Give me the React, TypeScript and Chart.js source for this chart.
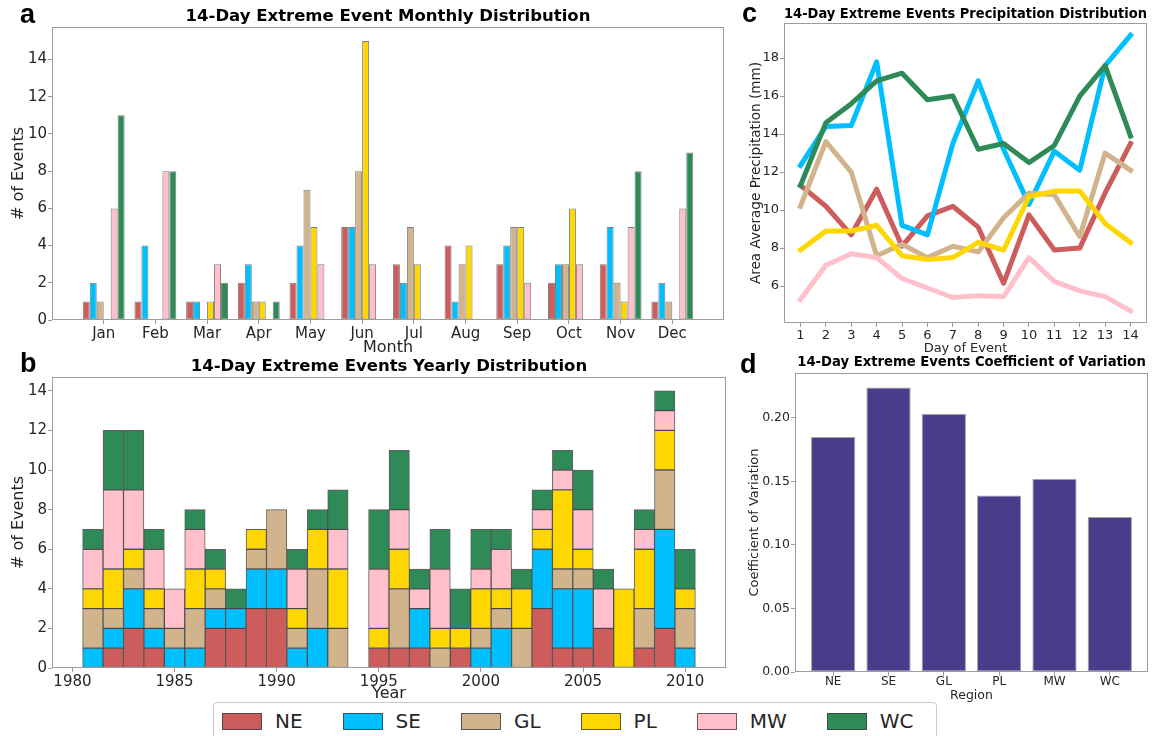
import React, { useEffect, useRef } from 'react';
import { Chart, registerables } from 'chart.js';

Chart.register(...registerables);

// ---------- data ----------
const REGIONS = ['NE', 'SE', 'GL', 'PL', 'MW', 'WC'];
const REGION_COLORS = ['#CD5C5C', '#00BFFF', '#D2B48C', '#FFD700', '#FFC0CB', '#2E8B57'];

const MONTHS = ['Jan', 'Feb', 'Mar', 'Apr', 'May', 'Jun', 'Jul', 'Aug', 'Sep', 'Oct', 'Nov', 'Dec'];
const NE_MONTHLY = [1, 1, 1, 2, 2, 5, 3, 4, 3, 2, 3, 1];
const SE_MONTHLY = [2, 4, 1, 3, 4, 5, 2, 1, 4, 3, 5, 2];
const GL_MONTHLY = [1, 0, 0, 1, 7, 8, 5, 3, 5, 3, 2, 1];
const PL_MONTHLY = [0, 0, 1, 1, 5, 15, 3, 4, 5, 6, 1, 0];
const MW_MONTHLY = [6, 8, 3, 0, 3, 3, 0, 0, 2, 3, 5, 6];
const WC_MONTHLY = [11, 8, 2, 1, 0, 0, 0, 0, 0, 0, 8, 9];
const MONTHLY_Y_TICKS = [0, 2, 4, 6, 8, 10, 12, 14];

const YEARS = [1981, 1982, 1983, 1984, 1985, 1986, 1987, 1988, 1989, 1990, 1991, 1992, 1993, 1994, 1995,
  1996, 1997, 1998, 1999, 2000, 2001, 2002, 2003, 2004, 2005, 2006, 2007, 2008, 2009, 2010];
const NE_YEARLY = [0, 1, 2, 1, 0, 0, 2, 2, 3, 3, 0, 0, 0, 0, 1, 1, 1, 0, 1, 0, 0, 0, 3, 1, 1, 2, 0, 1, 2, 0];
const SE_YEARLY = [1, 1, 2, 1, 1, 1, 1, 1, 2, 2, 1, 2, 0, 0, 0, 0, 2, 0, 0, 1, 2, 0, 3, 3, 3, 0, 0, 0, 5, 1];
const GL_YEARLY = [2, 1, 1, 1, 1, 2, 1, 0, 1, 3, 1, 3, 2, 0, 0, 3, 0, 1, 0, 1, 1, 2, 0, 1, 1, 0, 0, 2, 3, 2];
const PL_YEARLY = [1, 2, 1, 1, 0, 2, 1, 0, 1, 0, 1, 2, 3, 0, 1, 2, 0, 1, 1, 2, 1, 2, 1, 4, 1, 0, 4, 3, 2, 1];
const MW_YEARLY = [2, 4, 3, 2, 2, 2, 0, 0, 0, 0, 2, 0, 2, 0, 3, 2, 1, 3, 0, 1, 2, 0, 1, 1, 2, 2, 0, 1, 1, 0];
const WC_YEARLY = [1, 3, 3, 1, 0, 1, 1, 1, 0, 0, 1, 1, 2, 0, 3, 3, 1, 2, 2, 2, 1, 1, 1, 1, 2, 1, 0, 1, 1, 2];
const YEAR_TICKS = [1980, 1985, 1990, 1995, 2000, 2005, 2010];
const YEARLY_Y_TICKS = [0, 2, 4, 6, 8, 10, 12, 14];

const DAYS = [1, 2, 3, 4, 5, 6, 7, 8, 9, 10, 11, 12, 13, 14];
const NE_PRECIP = [11.3, 10.2, 8.7, 11.1, 8.1, 9.7, 10.2, 9.1, 6.15, 9.75, 7.9, 8.0, 10.9, 13.5];
const SE_PRECIP = [12.35, 14.4, 14.45, 17.8, 9.2, 8.7, 13.5, 16.8, 13.2, 10.3, 13.1, 12.1, 17.6, 19.2];
const GL_PRECIP = [10.2, 13.6, 12.0, 7.6, 8.2, 7.5, 8.1, 7.8, 9.6, 10.9, 10.8, 8.6, 13.0, 12.1];
const PL_PRECIP = [7.9, 8.9, 8.9, 9.2, 7.6, 7.4, 7.5, 8.3, 7.9, 10.7, 11.0, 11.0, 9.3, 8.3];
const MW_PRECIP = [5.3, 7.1, 7.7, 7.5, 6.4, 5.9, 5.4, 5.5, 5.45, 7.5, 6.25, 5.75, 5.45, 4.7];
const WC_PRECIP = [11.3, 14.6, 15.6, 16.8, 17.2, 15.8, 16.0, 13.2, 13.5, 12.5, 13.4, 16.0, 17.6, 13.9];
const PRECIP_Y_TICKS = [6, 8, 10, 12, 14, 16, 18];

const CV_VALUES = [0.185, 0.224, 0.203, 0.139, 0.152, 0.122];
const CV_Y_TICKS = [0, 0.05, 0.1, 0.15, 0.2];

// ---------- styling helpers ----------
const FONT = "'DejaVu Sans', sans-serif";
const AXIS = '#9c9c9c';
const TEXT = '#262626';

const framePlugin = {
  id: 'frame',
  afterDatasetsDraw(chart: any) {
    const { ctx, chartArea } = chart;
    const l = Math.round(chartArea.left) + 0.5;
    const t = Math.round(chartArea.top) + 0.5;
    const r = Math.round(chartArea.right) - 0.5;
    const b = Math.round(chartArea.bottom) - 0.5;
    ctx.save();
    ctx.strokeStyle = AXIS;
    ctx.lineWidth = 1;
    ctx.strokeRect(l, t, r - l, b - t);
    ctx.restore();
  },
};

function makeScale(o: any) {
  return {
    type: 'linear',
    min: o.min,
    max: o.max,
    offset: false,
    stacked: !!o.stacked,
    afterBuildTicks: (s: any) => {
      s.ticks = o.tickValues.map((v: number) => ({ value: v }));
    },
    afterFit: o.fit,
    ticks: {
      autoSkip: false,
      maxRotation: 0,
      minRotation: 0,
      padding: o.tickPad,
      color: TEXT,
      font: { family: FONT, size: o.fontSize },
      callback: o.format,
    },
    grid: {
      display: true,
      offset: false,
      drawOnChartArea: false,
      drawTicks: true,
      tickLength: 4,
      color: AXIS,
      lineWidth: 1,
    },
    border: { display: false },
    title: {
      display: true,
      text: o.title,
      color: TEXT,
      font: { family: FONT, size: o.titleSize, lineHeight: 1.2 },
      padding: o.titlePad,
    },
  };
}

function makeTitle(text: string, size: number, top: number, bottom: number) {
  return {
    display: true,
    text,
    fullSize: false,
    color: '#000',
    font: { family: FONT, size, weight: 'bold', lineHeight: 1.2 },
    padding: { top, bottom },
  };
}

function ChartCanvas({ left, top, width, height, config }: any) {
  const ref = useRef<HTMLCanvasElement>(null);
  useEffect(() => {
    const chart = new Chart(ref.current as HTMLCanvasElement, config);
    return () => chart.destroy();
  }, []);
  return (
    <canvas
      ref={ref}
      width={width}
      height={height}
      style={{ position: 'absolute', left, top, width, height }}
    />
  );
}

const MONTHLY = [NE_MONTHLY, SE_MONTHLY, GL_MONTHLY, PL_MONTHLY, MW_MONTHLY, WC_MONTHLY];
const YEARLY = [NE_YEARLY, SE_YEARLY, GL_YEARLY, PL_YEARLY, MW_YEARLY, WC_YEARLY];
const PRECIP = [NE_PRECIP, SE_PRECIP, GL_PRECIP, PL_PRECIP, MW_PRECIP, WC_PRECIP];

const baseOptions = {
  responsive: false,
  maintainAspectRatio: false,
  animation: false,
  events: [],
};

const configA: any = {
  type: 'bar',
  data: {
    datasets: REGIONS.map((name, k) => ({
      label: name,
      data: MONTHLY[k].map((v, i) => ({ x: i, y: v === 0 ? null : v })),
      backgroundColor: REGION_COLORS[k],
      borderColor: 'rgba(80,80,80,0.75)',
      borderWidth: 1,
      borderSkipped: false,
      categoryPercentage: 0.81,
      barPercentage: 1,
    })),
  },
  options: {
    ...baseOptions,
    layout: { padding: { left: 0, right: 16, top: 0, bottom: 0 } },
    plugins: {
      legend: { display: false },
      tooltip: { enabled: false },
      title: makeTitle('14-Day Extreme Event Monthly Distribution', 16.5, 7.1, 0.1),
    },
    scales: {
      x: makeScale({
        min: -1, max: 12, tickValues: MONTHS.map((_, i) => i),
        format: (v: number) => MONTHS[v] ?? '', fontSize: 15, tickPad: 1,
        title: 'Month', titleSize: 16, titlePad: { top: 0, bottom: 0.4 },
        fit: (s: any) => { s.height = 38; },
      }),
      y: makeScale({
        min: 0, max: 15.75, tickValues: MONTHLY_Y_TICKS,
        format: (v: number) => String(v), fontSize: 15, tickPad: 1,
        title: '# of Events', titleSize: 16, titlePad: { top: 9, bottom: 0 },
        fit: (s: any) => { s.width = 52; },
      }),
    },
  },
  plugins: [framePlugin],
};

const configB: any = {
  type: 'bar',
  data: {
    datasets: REGIONS.map((name, k) => ({
      label: name,
      data: YEARLY[k].map((v, i) => ({ x: YEARS[i], y: v === 0 ? null : v })),
      backgroundColor: REGION_COLORS[k],
      borderColor: 'rgba(40,40,40,0.75)',
      borderWidth: 1,
      borderSkipped: false,
      categoryPercentage: 1,
      barPercentage: 1,
    })),
  },
  options: {
    ...baseOptions,
    layout: { padding: { left: 0, right: 14, top: 0, bottom: 0 } },
    plugins: {
      legend: { display: false },
      tooltip: { enabled: false },
      title: makeTitle('14-Day Extreme Events Yearly Distribution', 16.5, 7.1, 0.1),
    },
    scales: {
      x: makeScale({
        min: 1979, max: 2012, stacked: true, tickValues: YEAR_TICKS,
        format: (v: number) => String(v), fontSize: 15, tickPad: 1,
        title: 'Year', titleSize: 16, titlePad: { top: 0, bottom: 0.4 },
        fit: (s: any) => { s.height = 36; },
      }),
      y: makeScale({
        min: 0, max: 14.7, stacked: true, tickValues: YEARLY_Y_TICKS,
        format: (v: number) => String(v), fontSize: 15, tickPad: 1,
        title: '# of Events', titleSize: 16, titlePad: { top: 9, bottom: 0 },
        fit: (s: any) => { s.width = 52; },
      }),
    },
  },
  plugins: [framePlugin],
};

const configC: any = {
  type: 'line',
  data: {
    datasets: REGIONS.map((name, k) => ({
      label: name,
      data: PRECIP[k].map((v, i) => ({ x: DAYS[i], y: v })),
      borderColor: REGION_COLORS[k],
      backgroundColor: REGION_COLORS[k],
      borderWidth: 5,
      pointRadius: 0,
      tension: 0,
      fill: false,
      borderJoinStyle: 'round',
      borderCapStyle: 'square',
      order: REGIONS.length - 1 - k,
    })),
  },
  options: {
    ...baseOptions,
    layout: { padding: { left: 0, right: 12, top: 0, bottom: 0 } },
    plugins: {
      legend: { display: false },
      tooltip: { enabled: false },
      title: makeTitle('14-Day Extreme Events Precipitation Distribution', 13.2, 7.1, 0.1),
    },
    scales: {
      x: makeScale({
        min: 0.35, max: 14.65, tickValues: DAYS,
        format: (v: number) => String(v), fontSize: 13, tickPad: 1,
        title: 'Day of Event', titleSize: 13, titlePad: { top: 0, bottom: 0.2 },
        fit: (s: any) => { s.height = 34; },
      }),
      y: makeScale({
        min: 4.06, max: 19.84, tickValues: PRECIP_Y_TICKS,
        format: (v: number) => String(v), fontSize: 13, tickPad: 1,
        title: 'Area Average Precipitation (mm)', titleSize: 13.6, titlePad: { top: 8.5, bottom: 0 },
        fit: (s: any) => { s.width = 44; },
      }),
    },
  },
  plugins: [framePlugin],
};

const configD: any = {
  type: 'bar',
  data: {
    datasets: [
      {
        label: 'Coefficient of Variation',
        data: CV_VALUES.map((v, i) => ({ x: i, y: v })),
        backgroundColor: '#483D8B',
        borderColor: 'rgba(150,150,150,0.9)',
        borderWidth: 1,
        borderSkipped: false,
        categoryPercentage: 0.8,
        barPercentage: 1,
      },
    ],
  },
  options: {
    ...baseOptions,
    layout: { padding: { left: 0, right: 11, top: 0, bottom: 0 } },
    plugins: {
      legend: { display: false },
      tooltip: { enabled: false },
      title: makeTitle('14-Day Extreme Events Coefficient of Variation', 13.2, 5.1, 2.1),
    },
    scales: {
      x: makeScale({
        min: -0.69, max: 5.69, tickValues: REGIONS.map((_, i) => i),
        format: (v: number) => REGIONS[v] ?? '', fontSize: 12, tickPad: -1.5,
        title: 'Region', titleSize: 12.5, titlePad: { top: 0, bottom: 0 },
        fit: (s: any) => { s.height = 31; },
      }),
      y: makeScale({
        min: 0, max: 0.2353, tickValues: CV_Y_TICKS,
        format: (v: number) => v.toFixed(2), fontSize: 12.5, tickPad: 1,
        title: 'Coefficient of Variation', titleSize: 13, titlePad: { top: 7.2, bottom: 0 },
        fit: (s: any) => { s.width = 55; },
      }),
    },
  },
  plugins: [framePlugin],
};

const letterStyle: React.CSSProperties = {
  position: 'absolute',
  fontFamily: "'Liberation Sans', Arial, sans-serif",
  fontWeight: 'bold',
  fontSize: 27,
  lineHeight: '27px',
  color: '#000',
};

export default function App() {
  return (
    <div
      style={{
        position: 'absolute',
        left: 0,
        top: 0,
        width: 1159,
        height: 736,
        background: '#fff',
        overflow: 'hidden',
      }}
    >
      <ChartCanvas left={0} top={0} width={740} height={358} config={configA} />
      <ChartCanvas left={0} top={350} width={740} height={354} config={configB} />
      <ChartCanvas left={740} top={0} width={419} height={357} config={configC} />
      <ChartCanvas left={740} top={350} width={419} height={353} config={configD} />

      <div style={{ ...letterStyle, left: 20, top: 1 }}>a</div>
      <div style={{ ...letterStyle, left: 20, top: 350 }}>b</div>
      <div style={{ ...letterStyle, left: 742, top: 0 }}>c</div>
      <div style={{ ...letterStyle, left: 740, top: 351 }}>d</div>

      <div
        style={{
          position: 'absolute',
          left: 213,
          top: 702,
          width: 724,
          height: 44,
          border: '1px solid #cccccc',
          borderRadius: 4,
          background: '#fff',
          boxSizing: 'border-box',
          display: 'flex',
          alignItems: 'flex-start',
          paddingLeft: 8,
          paddingTop: 8,
          fontFamily: FONT,
          fontSize: 20,
          color: TEXT,
        }}
      >
        {REGIONS.map((name, k) => (
          <div key={name} style={{ display: 'flex', alignItems: 'center', marginRight: k < REGIONS.length - 1 ? 40 : 0 }}>
            <div
              style={{
                width: 40,
                height: 17,
                background: REGION_COLORS[k],
                border: '1px solid rgba(60,60,60,0.8)',
                boxSizing: 'border-box',
                marginRight: 13,
              }}
            />
            <span style={{ lineHeight: '20px' }}>{name}</span>
          </div>
        ))}
      </div>
    </div>
  );
}
